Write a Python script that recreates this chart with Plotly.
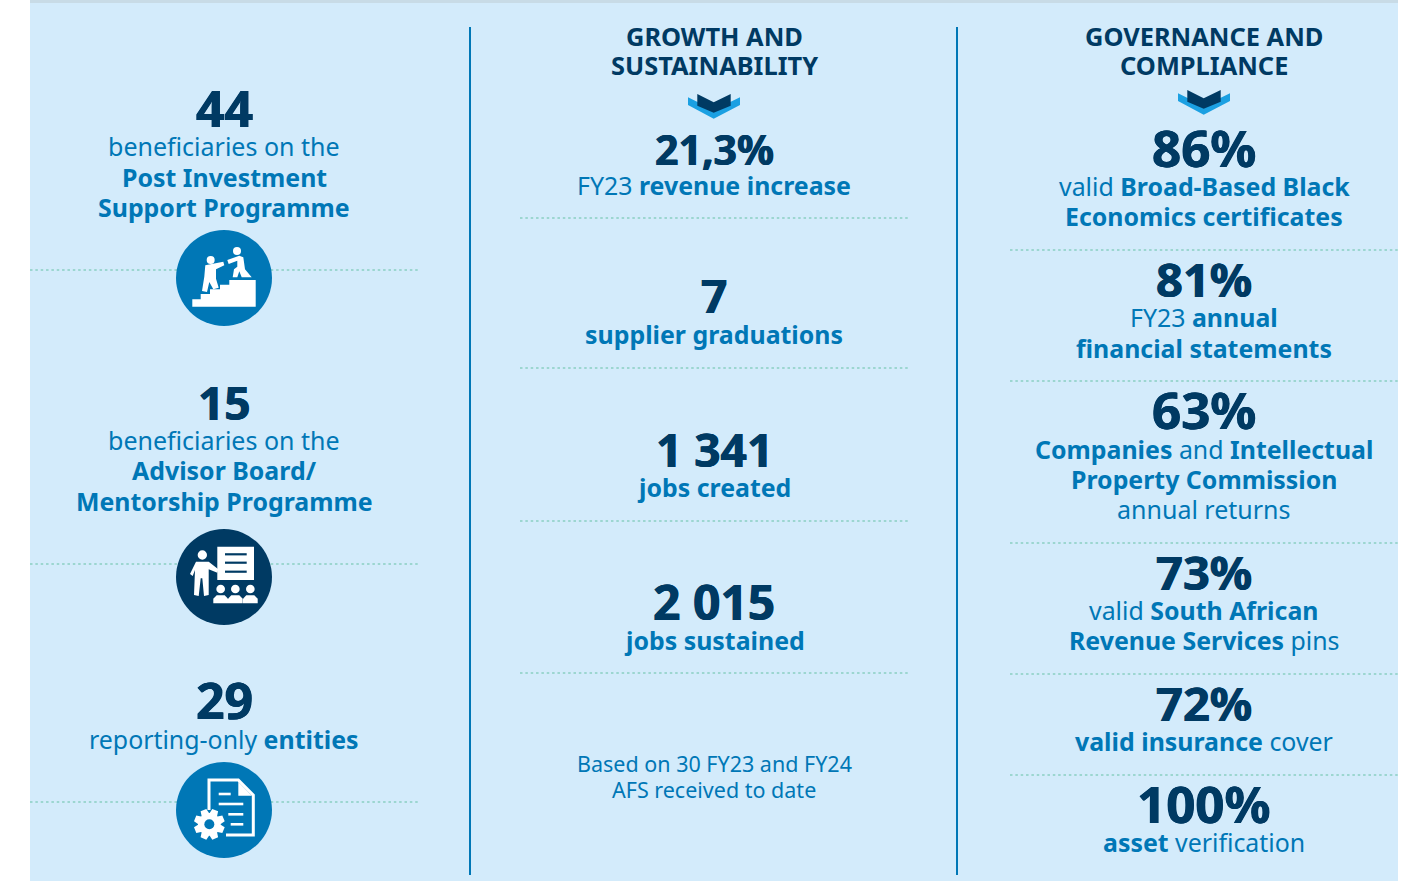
import math
import plotly.graph_objects as go

FONT = "Noto Sans"
DARK = "#003a63"
BLUE = "#0077b6"
PANEL = "#d3ebfb"
DOT = "#9cd6d0"

# ---- text content ----
left_numbers = ["44", "15", "29"]
left_lines = [
    ["beneficiaries on the", "<b>Post Investment</b>", "<b>Support Programme</b>"],
    ["beneficiaries on the", "<b>Advisor Board/</b>", "<b>Mentorship Programme</b>"],
    ["reporting-only <b>entities</b>"],
]
mid_heading = ["GROWTH AND", "SUSTAINABILITY"]
mid_numbers = ["21,3%", "7", "1 341", "2 015"]
mid_lines = [
    ["FY23 <b>revenue increase</b>"],
    ["<b>supplier graduations</b>"],
    ["<b>jobs created</b>"],
    ["<b>jobs sustained</b>"],
]
mid_note = ["Based on 30 FY23 and FY24", "AFS received to date"]
right_heading = ["GOVERNANCE AND", "COMPLIANCE"]
right_numbers = ["86%", "81%", "63%", "73%", "72%", "100%"]
right_lines = [
    ["valid <b>Broad-Based Black</b>", "<b>Economics certificates</b>"],
    ["FY23 <b>annual</b>", "<b>financial statements</b>"],
    ["<b>Companies</b> and <b>Intellectual</b>", "<b>Property Commission</b>", "annual returns"],
    ["valid <b>South African</b>", "<b>Revenue Services</b> pins"],
    ["<b>valid insurance</b> cover"],
    ["<b>asset</b> verification"],
]

# ---- layout positions (pixels) ----
LEFT_X, MID_X, RIGHT_X = 224, 714, 1204
left_num_y = [108, 401.5, 699.5]
left_num_size = [50, 46, 50]
left_line_y = [[146, 177, 207], [440, 470, 501], [739]]
left_dots_y = [270, 564, 802]
mid_num_y = [149, 295, 449, 601.5]
mid_num_size = [41, 46, 46, 48]
mid_line_y = [[185], [334], [487], [640]]
mid_dots_y = [218, 368, 521, 673]
mid_note_y = [763.5, 789.5]
right_num_y = [147, 279, 409, 571.5, 702.5, 803]
right_num_size = [51, 47, 51, 47, 47, 51]
right_line_y = [[186, 216], [317, 348], [449, 479, 509], [610, 640], [741], [842]]
right_dots_y = [250, 381, 543, 674, 775]
heading_y = [36, 65]

shapes, annos = [], []


def text(x, y, s, size, color, shadow=None):
    font = dict(family=FONT, size=size, color=color)
    if shadow:
        font["shadow"] = shadow
    annos.append(dict(x=x, y=y, text=s, showarrow=False, xanchor="center", yanchor="middle",
                      font=font, xref="x", yref="y"))


def body(x, y, s):
    text(x, y, s, 24.9 if "<b>" in s else 25, BLUE)


def number(x, y, s, size):
    text(x, y, f"<b>{s}</b>", size, DARK, f"0.5px 0 0 {DARK}, -0.5px 0 0 {DARK}")


def rect(x0, y0, x1, y1, color):
    shapes.append(dict(type="rect", x0=x0, y0=y0, x1=x1, y1=y1, fillcolor=color,
                       line=dict(width=0), layer="below"))


def circle(cx, cy, r, color):
    shapes.append(dict(type="circle", x0=cx - r, y0=cy - r, x1=cx + r, y1=cy + r,
                       fillcolor=color, line=dict(width=0), layer="below"))


def poly(points, color, ox=0, oy=0, k=1.0):
    d = "M" + " L".join(f"{ox + p[0] * k:.1f},{oy + p[1] * k:.1f}" for p in points) + " Z"
    shapes.append(dict(type="path", path=d, fillcolor=color, line=dict(width=0), layer="below"))


def stroke(points, color, width, ox=0, oy=0, k=1.0):
    d = "M" + " L".join(f"{ox + p[0] * k:.1f},{oy + p[1] * k:.1f}" for p in points)
    shapes.append(dict(type="path", path=d, line=dict(color=color, width=width), layer="below"))


def dotted(x0, x1, y):
    shapes.append(dict(type="line", x0=x0, x1=x1, y0=y, y1=y,
                       line=dict(color=DOT, width=2, dash="2.5px,2.85px"), layer="below"))


# background
rect(30, 3, 1398, 881, PANEL)
rect(30, 0, 1398, 3, "#c8dbe6")

# separators
for xv in (470, 957):
    shapes.append(dict(type="line", x0=xv, x1=xv, y0=27, y1=875,
                       line=dict(color=BLUE, width=2), layer="below"))
for y in left_dots_y:
    dotted(30, 419, y)
for y in mid_dots_y:
    dotted(520, 909, y)
for y in right_dots_y:
    dotted(1010, 1398, y)

# left column
for n, ny, sz, ls, ly in zip(left_numbers, left_num_y, left_num_size, left_lines, left_line_y):
    number(LEFT_X, ny, n, sz)
    for s, y in zip(ls, ly):
        body(LEFT_X, y, s)
# middle
for s, y in zip(mid_heading, heading_y):
    text(MID_X, y, f"<b>{s}</b>", 25.4, DARK)
for n, ny, sz, ls, ly in zip(mid_numbers, mid_num_y, mid_num_size, mid_lines, mid_line_y):
    number(MID_X, ny, n, sz)
    for s, y in zip(ls, ly):
        body(MID_X, y, s)
for s, y in zip(mid_note, mid_note_y):
    text(MID_X, y, s, 21.5, BLUE)
# right
for s, y in zip(right_heading, heading_y):
    text(RIGHT_X, y, f"<b>{s}</b>", 25.4, DARK)
for n, ny, sz, ls, ly in zip(right_numbers, right_num_y, right_num_size, right_lines, right_line_y):
    number(RIGHT_X, ny, n, sz)
    for s, y in zip(ls, ly):
        body(RIGHT_X, y, s)


# chevrons
def chevron(ox, oy):
    k = 1 / 3
    poly([(264, 247), (341, 285), (420, 247), (420, 270), (341, 311), (264, 270)], "#1ba0e2", ox, oy, k)
    poly([(292, 237), (341, 262), (392, 237), (392, 272), (341, 293), (292, 272)], DARK, ox, oy, k)


chevron(600, 15)
chevron(1090, 11)

# icon 1: climbing stairs
circle(224, 278, 48, BLUE)
ox, oy, k = 160, 220, 1 / 3
W = "white"
poly([(97, 238), (122, 238), (122, 222), (150, 222), (150, 208), (180, 208), (180, 194), (208, 194), (208, 180),
      (287, 180), (287, 260), (97, 260)], W, ox, oy, k)
circle(ox + 152 * k, oy + 120 * k, 12 * k, W)
circle(ox + 231 * k, oy + 93 * k, 12 * k, W)
poly([(136, 136), (190, 125), (193, 136), (168, 148), (168, 176), (176, 203), (160, 208), (148, 186),
      (141, 216), (126, 213), (133, 170)], W, ox, oy, k)
poly([(202, 120), (238, 107), (250, 112), (255, 148), (275, 172), (245, 172), (238, 154), (232, 172),
      (218, 172), (222, 148), (232, 140), (232, 122), (206, 132)], W, ox, oy, k)

# icon 2: presenter and audience
circle(224, 577, 48, DARK)
ox, oy = 160, 520
poly([(172, 80), (282, 80), (282, 180), (172, 180)], W, ox, oy, k)
for ly in (103, 128, 155):
    stroke([(195, ly), (260, ly)], DARK, 2.2, ox, oy, k)
circle(ox + 127 * k, oy + 105 * k, 14 * k, W)
poly([(108, 125), (146, 125), (175, 148), (172, 158), (146, 148), (146, 225), (132, 228), (127, 175), (122, 175),
      (116, 228), (102, 225), (105, 150), (98, 168), (90, 162)], W, ox, oy, k)
for hx in (182, 226, 271):
    circle(ox + hx * k, oy + 207 * k, 13 * k, W)
    poly([(hx - 22, 250), (hx - 22, 236), (hx - 12, 226), (hx + 12, 226), (hx + 22, 236), (hx + 22, 250)],
         W, ox, oy, k)

# icon 3: document and gear
circle(224, 810, 48, BLUE)
ox, oy = 160, 755
stroke([(147, 165), (147, 75), (235, 75), (280, 120), (280, 240), (198, 240)], W, 3, ox, oy, k)
poly([(235, 80), (235, 122), (276, 122)], W, ox, oy, k)
for (a, b, ly) in [(176, 212, 117), (176, 250, 147), (205, 250, 178), (212, 250, 208)]:
    stroke([(a, ly), (b, ly)], W, 2.6, ox, oy, k)
gear = []
gcx, gcy = 148, 208
for i in range(8):
    base = i * math.pi / 4 + math.pi / 8
    for da, r in [(-0.36, 34), (-0.2, 47), (0.2, 47), (0.36, 34)]:
        gear.append((gcx + r * math.cos(base + da), gcy + r * math.sin(base + da)))
poly(gear, W, ox, oy, k)
circle(ox + gcx * k, oy + gcy * k, 15 * k, BLUE)

fig = go.Figure()
fig.update_layout(
    width=1405, height=881, margin=dict(l=0, r=0, t=0, b=0),
    paper_bgcolor="white", plot_bgcolor="white", showlegend=False,
    xaxis=dict(range=[0, 1405], visible=False, fixedrange=True),
    yaxis=dict(range=[881, 0], visible=False, fixedrange=True),
    shapes=shapes, annotations=annos,
)
fig.write_html("out.html", config={"displayModeBar": False},
               post_script="document.body.style.margin='0';document.body.style.overflow='hidden';")
